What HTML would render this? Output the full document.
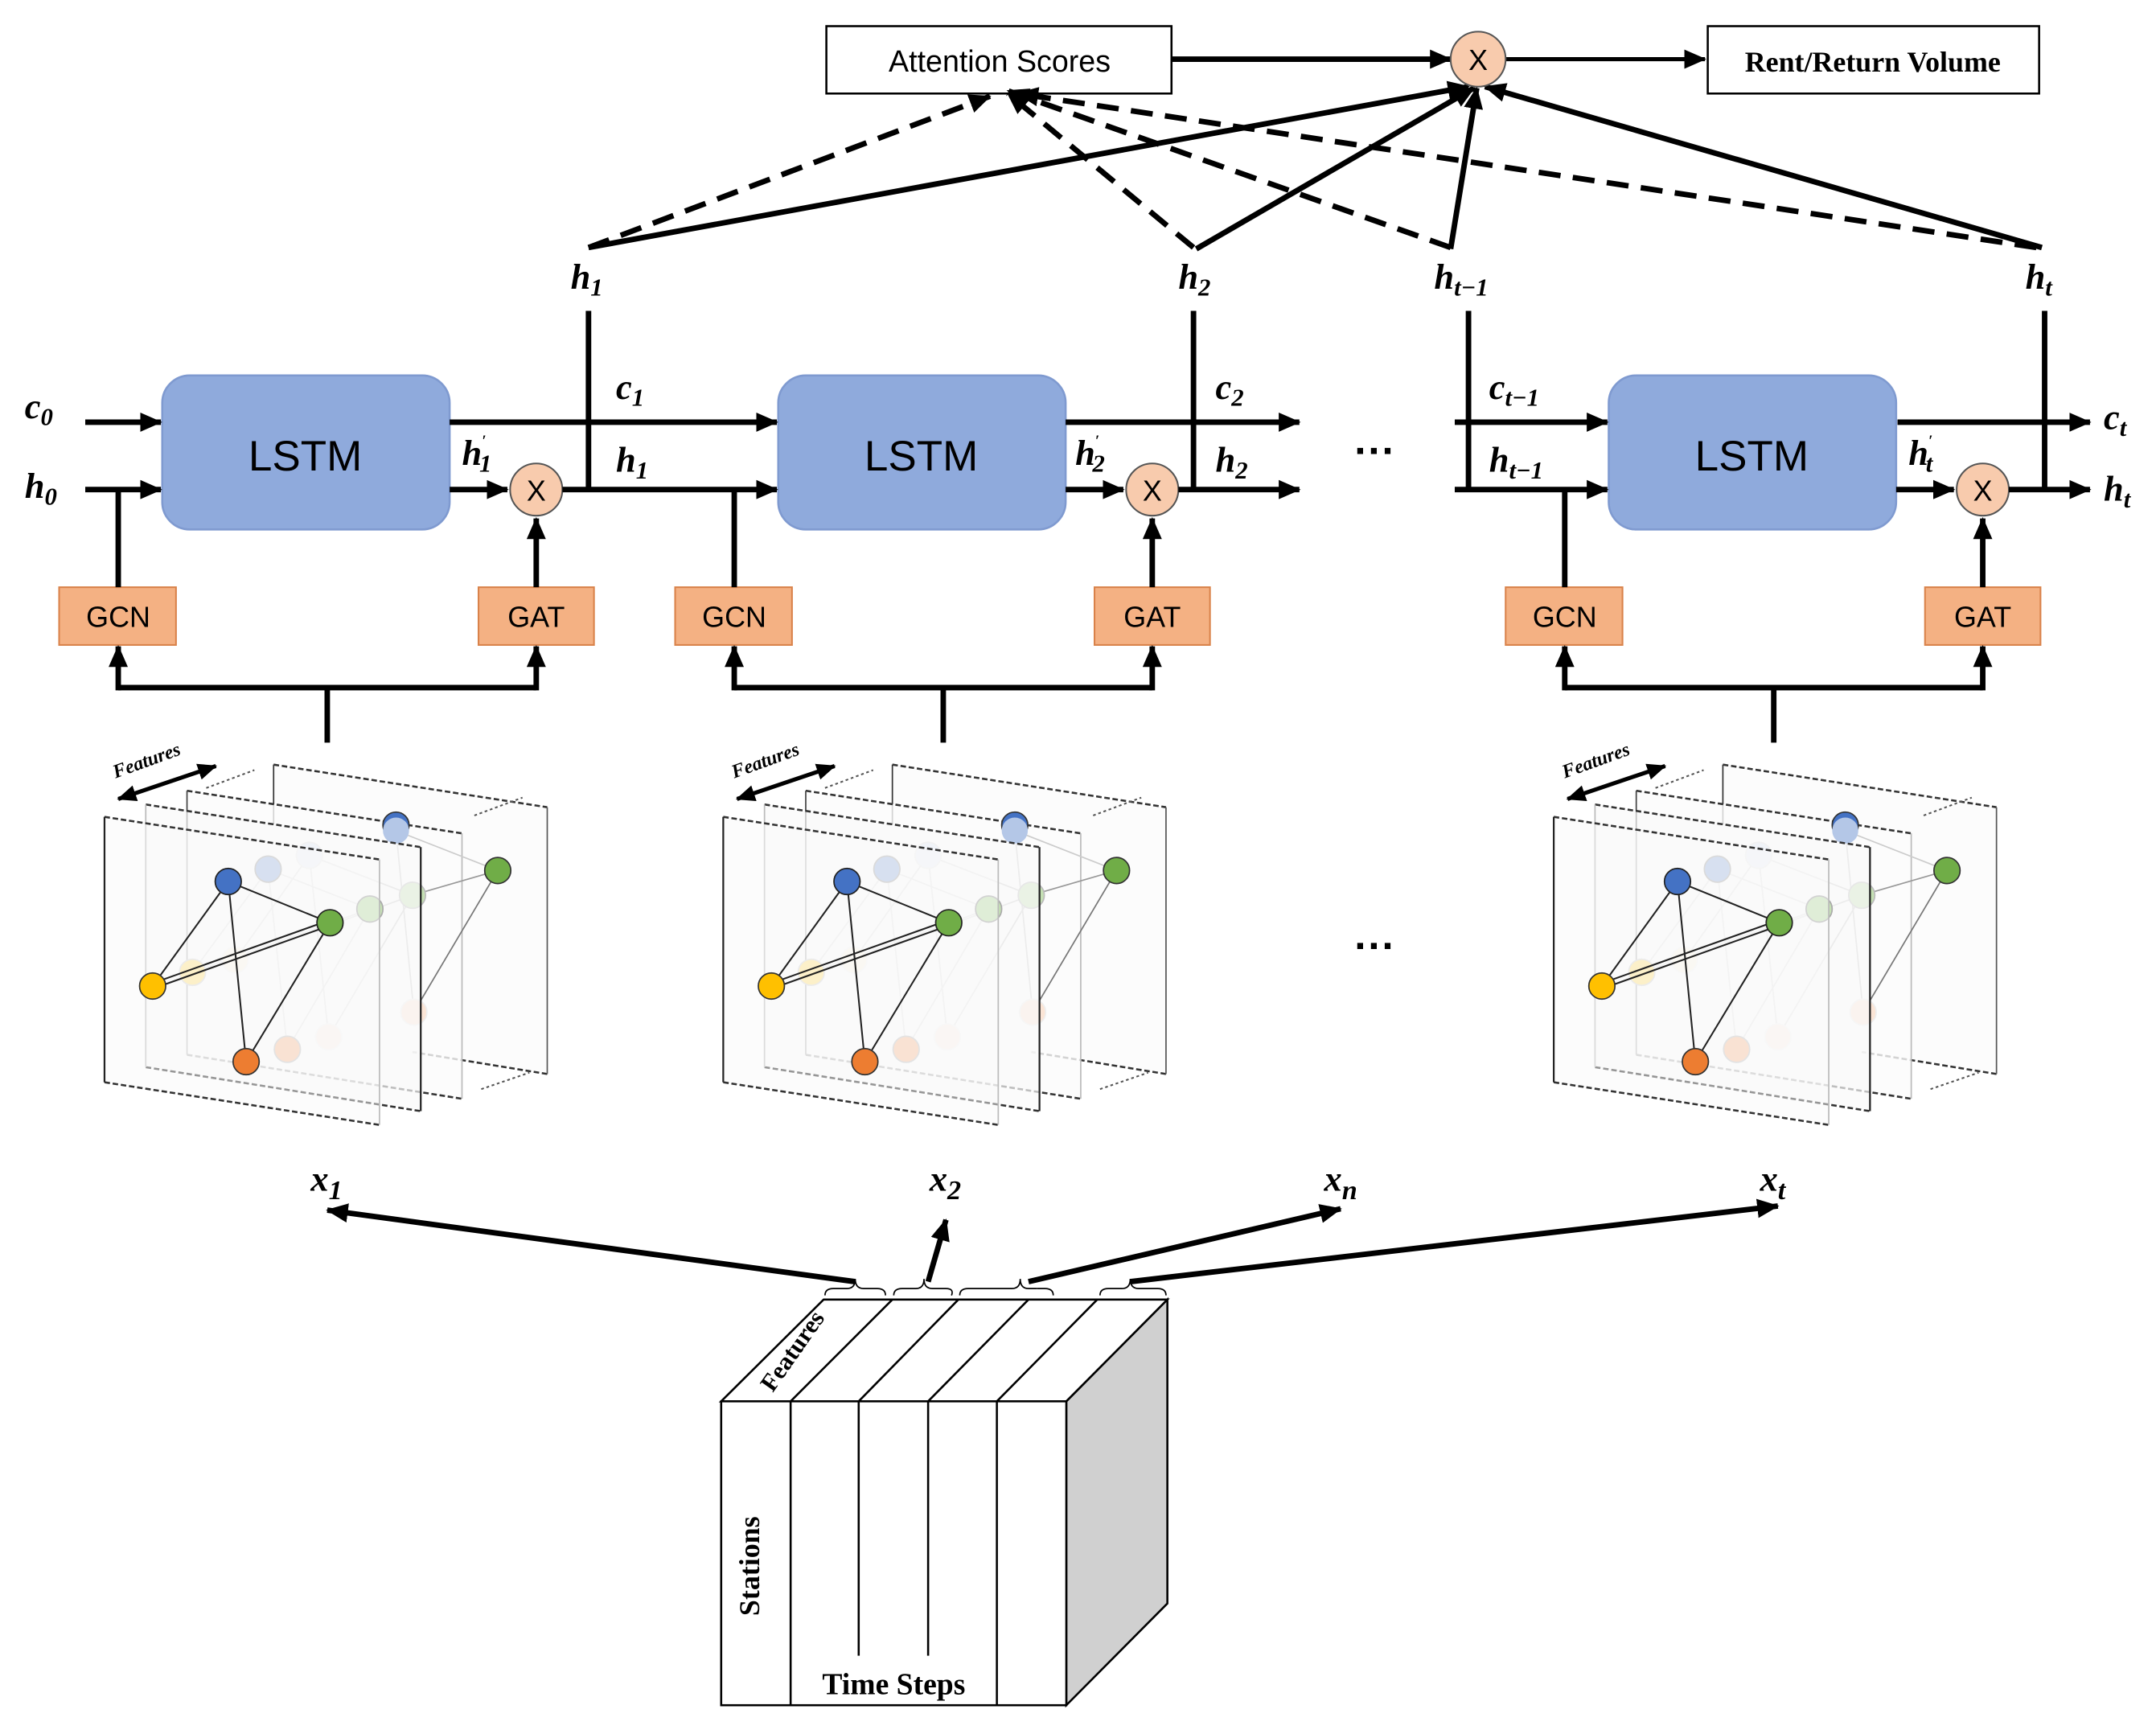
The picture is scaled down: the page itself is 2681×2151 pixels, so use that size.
<!DOCTYPE html>
<html><head><meta charset="utf-8"><style>
html,body{margin:0;padding:0;background:#fff;}
svg{display:block;}
.m{font-family:"Liberation Serif",serif;font-style:italic;font-weight:bold;font-size:26px;fill:#000;}
.s{font-family:"Liberation Sans",sans-serif;fill:#000;}
</style></head><body>
<svg width="2681" height="2151" viewBox="0 0 1568 1258" xmlns="http://www.w3.org/2000/svg">
<defs>
<marker id="a" markerUnits="userSpaceOnUse" markerWidth="16" markerHeight="14" refX="15" refY="7" orient="auto"><path d="M0,0 L16,7 L0,14 z" fill="#000"/></marker>
<marker id="b" markerUnits="userSpaceOnUse" markerWidth="14" markerHeight="12" refX="13" refY="6" orient="auto-start-reverse"><path d="M0,0 L14,6 L0,12 z" fill="#000"/></marker>
<g id="panel">
 <path d="M199,556 L398,587 L398,781 L199,749 Z" fill="#fcfcfc" stroke="none"/>
 <path d="M199,556 L398,587" stroke="#333" stroke-width="1.5" stroke-dasharray="4,2" fill="none"/>
 <path d="M398,781 L300,765" stroke="#333" stroke-width="1.5" stroke-dasharray="4,2" fill="none"/>
 <line x1="199" y1="556" x2="199" y2="600" stroke="#333" stroke-width="1"/>
 <line x1="398" y1="587" x2="398" y2="781" stroke="#555" stroke-width="1"/>
 <path d="M150,573 L185,560 M345,593 L380,580 M350,792 L385,780" stroke="#555" stroke-width="1.2" stroke-dasharray="2,2"/>
 <path d="M136,575 L336,606 L336,799 L136,767 Z" fill="#fbfbfb" fill-opacity="0.8" stroke="none"/>
 <path d="M136,575 L336,606 M136,767 L336,799" stroke="#333" stroke-width="1.5" stroke-dasharray="4,2"/>
 <line x1="136" y1="575" x2="136" y2="767" stroke="#444" stroke-width="1"/>
 <line x1="336" y1="606" x2="336" y2="799" stroke="#bbb" stroke-width="1"/>
 <g stroke="#ccc" stroke-width="1" fill="none">
  <line x1="195" y1="632" x2="140" y2="707"/><line x1="195" y1="632" x2="209" y2="763"/><line x1="195" y1="632" x2="269" y2="661"/>
  <line x1="140" y1="707" x2="269" y2="661"/><line x1="209" y1="763" x2="269" y2="661"/>
  <line x1="225" y1="622" x2="171" y2="698"/><line x1="225" y1="622" x2="239" y2="754"/><line x1="225" y1="622" x2="300" y2="651"/>
  <line x1="171" y1="698" x2="300" y2="651"/><line x1="239" y1="754" x2="300" y2="651"/>
  <line x1="288" y1="604" x2="362" y2="633"/><line x1="288" y1="604" x2="301" y2="736"/>
 </g>
 <line x1="362" y1="633" x2="301" y2="736" stroke="#777" stroke-width="1"/>
 <line x1="300" y1="651" x2="362" y2="633" stroke="#999" stroke-width="1"/>
 <circle cx="288" cy="600" r="9.5" fill="#4472c4" stroke="#333" stroke-width="1"/>
 <circle cx="288" cy="604" r="9.5" fill="#b4c7e7"/>
 <circle cx="225" cy="622" r="9.5" fill="#dae3f3" stroke="#ddd"/>
 <circle cx="171" cy="698" r="9.5" fill="#fff2cc" stroke="#eee"/>
 <circle cx="239" cy="754" r="9.5" fill="#fbe5d6" stroke="#eee"/>
 <circle cx="301" cy="736" r="9.5" fill="#fbe5d6" stroke="#eee"/>
 <circle cx="300" cy="651" r="9.5" fill="#c5e0b4" stroke="#bbb"/>
 <circle cx="362" cy="633" r="9.5" fill="#70ad47" stroke="#333" stroke-width="1"/>
 <path d="M106,585 L306,616 L306,808 L106,776 Z" fill="#fafafa" fill-opacity="0.7" stroke="none"/>
 <path d="M106,585 L306,616 M106,776 L306,808" stroke="#333" stroke-width="1.5" stroke-dasharray="4,2"/>
 <line x1="106" y1="585" x2="106" y2="776" stroke="#bbb" stroke-width="1"/>
 <line x1="306" y1="616" x2="306" y2="808" stroke="#222" stroke-width="1.3"/>
 <circle cx="195" cy="632" r="9.5" fill="#b4c7e7" stroke="#bbb"/>
 <circle cx="140" cy="707" r="9.5" fill="#ffe699" stroke="#ddd"/>
 <circle cx="209" cy="763" r="9.5" fill="#f8cbad" stroke="#ccc"/>
 <circle cx="269" cy="661" r="9.5" fill="#c5e0b4" stroke="#aaa"/>
 <path d="M76,594 L276,625 L276,818 L76,787 Z" fill="#fafafa" fill-opacity="0.5" stroke="none"/>
 <path d="M76,594 L276,625 M76,787 L276,818" stroke="#333" stroke-width="1.5" stroke-dasharray="4,2"/>
 <line x1="76" y1="594" x2="76" y2="787" stroke="#222" stroke-width="1.3"/>
 <line x1="276" y1="625" x2="276" y2="818" stroke="#bbb" stroke-width="1"/>
 <g stroke="#222" stroke-width="1.2">
  <line x1="166" y1="641" x2="111" y2="717"/><line x1="166" y1="641" x2="179" y2="772"/>
  <line x1="166" y1="641" x2="240" y2="671"/><line x1="179" y1="772" x2="240" y2="671"/>
  <line x1="111" y1="715" x2="240" y2="669"/><line x1="111" y1="719" x2="240" y2="673"/>
 </g>
 <circle cx="166" cy="641" r="9.5" fill="#4472c4" stroke="#222"/>
 <circle cx="240" cy="671" r="9.5" fill="#70ad47" stroke="#222"/>
 <circle cx="111" cy="717" r="9.5" fill="#ffc000" stroke="#333"/>
 <circle cx="179" cy="772" r="9.5" fill="#ed7d31" stroke="#333"/>
 <line x1="86" y1="581" x2="157" y2="557" stroke="#000" stroke-width="3" marker-start="url(#b)" marker-end="url(#b)"/>
</g>
<g id="cell">
 <rect x="118" y="273" width="209" height="112" rx="20" fill="#8faadc" stroke="#7f9ad0" stroke-width="1.5"/>
 <rect x="43" y="427" width="85" height="42" fill="#f4b183" stroke="#d9824a" stroke-width="1.2"/>
 <rect x="348" y="427" width="84" height="42" fill="#f4b183" stroke="#d9824a" stroke-width="1.2"/>
 <line x1="86" y1="427" x2="86" y2="356" stroke="#000" stroke-width="4"/>
 <line x1="390" y1="427" x2="390" y2="377" stroke="#000" stroke-width="4" marker-end="url(#a)"/>
 <line x1="327" y1="356" x2="369" y2="356" stroke="#000" stroke-width="4" marker-end="url(#a)"/>
 <circle cx="390" cy="356" r="19" fill="#f8cbad" stroke="#555" stroke-width="1.2"/>
 <path d="M238,540 L238,500 M86,500 L390,500" stroke="#000" stroke-width="4" fill="none"/>
 <line x1="86" y1="502" x2="86" y2="470" stroke="#000" stroke-width="4" marker-end="url(#a)"/>
 <line x1="390" y1="502" x2="390" y2="470" stroke="#000" stroke-width="4" marker-end="url(#a)"/>
</g>
</defs>

<rect width="1568" height="1258" fill="#fff"/>

<rect x="601" y="19" width="251" height="49" fill="#fff" stroke="#000" stroke-width="1.5"/>
<text x="727" y="52" class="s" font-size="22" text-anchor="middle">Attention Scores</text>
<rect x="1242" y="19" width="241" height="49" fill="#fff" stroke="#000" stroke-width="1.5"/>
<text x="1362" y="52" font-family="Liberation Serif,serif" font-weight="bold" font-size="21" text-anchor="middle">Rent/Return Volume</text>
<line x1="852" y1="43" x2="1055" y2="43" stroke="#000" stroke-width="4" marker-end="url(#a)"/>
<line x1="1095" y1="43" x2="1240" y2="43" stroke="#000" stroke-width="3" marker-end="url(#a)"/>

<g stroke="#000" stroke-width="4" stroke-dasharray="16,9" fill="none">
 <line x1="428" y1="180" x2="720" y2="70" marker-end="url(#a)"/>
 <line x1="868" y1="180" x2="733" y2="68" marker-end="url(#a)"/>
 <line x1="1055" y1="180" x2="733" y2="66" marker-end="url(#a)"/>
 <line x1="1481" y1="180" x2="740" y2="68" marker-end="url(#a)"/>
</g>
<g stroke="#000" stroke-width="4" fill="none">
 <line x1="428" y1="180" x2="1068" y2="63" marker-end="url(#a)"/>
 <line x1="870" y1="181" x2="1072" y2="64" marker-end="url(#a)"/>
 <line x1="1055" y1="181" x2="1074" y2="64" marker-end="url(#a)"/>
 <line x1="1485" y1="180" x2="1080" y2="63" marker-end="url(#a)"/>
</g>
<circle cx="1075" cy="43" r="20" fill="#f8cbad" stroke="#555" stroke-width="1.2"/>
<text x="1075" y="51" class="s" font-size="21" text-anchor="middle">X</text>

<text class="m" x="415" y="210">h<tspan font-size="18" dy="5">1</tspan></text>
<text class="m" x="857" y="210">h<tspan font-size="18" dy="5">2</tspan></text>
<text class="m" x="1043" y="210">h<tspan font-size="18" dy="5">t−1</tspan></text>
<text class="m" x="1473" y="210">h<tspan font-size="18" dy="5">t</tspan></text>

<use href="#cell"/>
<use href="#cell" transform="translate(448,0)"/>
<use href="#cell" transform="translate(1052,0)"/>

<g stroke="#000" stroke-width="4" fill="none">
 <line x1="62" y1="307" x2="117" y2="307" marker-end="url(#a)"/>
 <line x1="62" y1="356" x2="117" y2="356" marker-end="url(#a)"/>
 <line x1="327" y1="307" x2="565" y2="307" marker-end="url(#a)"/>
 <line x1="409" y1="356" x2="565" y2="356" marker-end="url(#a)"/>
 <line x1="428" y1="226" x2="428" y2="356"/>
 <line x1="775" y1="307" x2="945" y2="307" marker-end="url(#a)"/>
 <line x1="857" y1="356" x2="945" y2="356" marker-end="url(#a)"/>
 <line x1="868" y1="226" x2="868" y2="356"/>
 <line x1="1058" y1="307" x2="1169" y2="307" marker-end="url(#a)"/>
 <line x1="1058" y1="356" x2="1169" y2="356" marker-end="url(#a)"/>
 <line x1="1068" y1="226" x2="1068" y2="356"/>
 <line x1="1380" y1="307" x2="1520" y2="307" marker-end="url(#a)"/>
 <line x1="1461" y1="356" x2="1520" y2="356" marker-end="url(#a)"/>
 <line x1="1487" y1="226" x2="1487" y2="356"/>
</g>

<g class="s" font-size="31" text-anchor="middle">
 <text x="222" y="342">LSTM</text><text x="670" y="342">LSTM</text><text x="1274" y="342">LSTM</text>
</g>
<g class="s" font-size="21" text-anchor="middle">
 <text x="86" y="456">GCN</text><text x="390" y="456">GAT</text>
 <text x="534" y="456">GCN</text><text x="838" y="456">GAT</text>
 <text x="1138" y="456">GCN</text><text x="1442" y="456">GAT</text>
 <text x="390" y="364">X</text><text x="838" y="364">X</text><text x="1442" y="364">X</text>
</g>

<text class="m" x="18" y="304">c<tspan font-size="18" dy="5">0</tspan></text>
<text class="m" x="18" y="362">h<tspan font-size="18" dy="5">0</tspan></text>
<text class="m" x="448" y="290">c<tspan font-size="18" dy="5">1</tspan></text>
<text class="m" x="448" y="343">h<tspan font-size="18" dy="5">1</tspan></text>
<text class="m" x="336" y="338">h<tspan font-size="11" dy="-14">′</tspan><tspan font-size="18" dx="-5" dy="19">1</tspan></text>
<text class="m" x="884" y="290">c<tspan font-size="18" dy="5">2</tspan></text>
<text class="m" x="884" y="343">h<tspan font-size="18" dy="5">2</tspan></text>
<text class="m" x="782" y="338">h<tspan font-size="11" dy="-14">′</tspan><tspan font-size="18" dx="-5" dy="19">2</tspan></text>
<text class="m" x="1083" y="290">c<tspan font-size="18" dy="5">t−1</tspan></text>
<text class="m" x="1083" y="343">h<tspan font-size="18" dy="5">t−1</tspan></text>
<text class="m" x="1388" y="338">h<tspan font-size="11" dy="-14">′</tspan><tspan font-size="18" dx="-5" dy="19">t</tspan></text>
<text class="m" x="1530" y="312">c<tspan font-size="18" dy="5">t</tspan></text>
<text class="m" x="1530" y="364">h<tspan font-size="18" dy="5">t</tspan></text>

<text x="1000" y="338" font-family="Liberation Sans,sans-serif" font-size="30" font-weight="bold" text-anchor="middle">···</text>
<text x="1000" y="698" font-family="Liberation Sans,sans-serif" font-size="30" font-weight="bold" text-anchor="middle">···</text>

<use href="#panel"/>
<use href="#panel" transform="translate(450,0)"/>
<use href="#panel" transform="translate(1054,0)"/>
<g font-family="Liberation Serif,serif" font-style="italic" font-weight="bold" font-size="14">
 <text transform="translate(84,566) rotate(-20)">Features</text>
 <text transform="translate(534,566) rotate(-20)">Features</text>
 <text transform="translate(1138,566) rotate(-20)">Features</text>
</g>

<text class="m" x="226" y="866" font-size="29">x<tspan font-size="20" dy="6">1</tspan></text>
<text class="m" x="676" y="866" font-size="29">x<tspan font-size="20" dy="6">2</tspan></text>
<text class="m" x="963" y="866" font-size="29">x<tspan font-size="20" dy="6">n</tspan></text>
<text class="m" x="1280" y="866" font-size="29">x<tspan font-size="20" dy="6">t</tspan></text>
<g stroke="#000" stroke-width="4" fill="none">
 <line x1="622" y1="932" x2="238" y2="880" marker-end="url(#a)"/>
 <line x1="675" y1="932" x2="688" y2="887" marker-end="url(#a)"/>
 <line x1="748" y1="932" x2="975" y2="879" marker-end="url(#a)"/>
 <line x1="822" y1="932" x2="1293" y2="877" marker-end="url(#a)"/>
</g>

<path d="M775.5,1019 L849,945 L849,1166 L775.5,1240 Z" fill="#d0d0d0" stroke="#000" stroke-width="1.5"/>
<path d="M524.5,1019 L599,945 L849,945 L775.5,1019 Z" fill="#fff" stroke="#000" stroke-width="1.5"/>
<rect x="524.5" y="1019" width="251" height="221" fill="#fff" stroke="#000" stroke-width="1.5"/>
<g stroke="#000" stroke-width="1.5">
 <line x1="575" y1="1019" x2="649" y2="945"/><line x1="624.5" y1="1019" x2="697" y2="945"/>
 <line x1="675" y1="1019" x2="748" y2="945"/><line x1="725" y1="1019" x2="798" y2="945"/>
 <line x1="575" y1="1019" x2="575" y2="1240"/><line x1="624.5" y1="1019" x2="624.5" y2="1204"/>
 <line x1="675" y1="1019" x2="675" y2="1204"/><line x1="725" y1="1019" x2="725" y2="1240"/>
</g>
<g stroke="#000" stroke-width="1" fill="none">
 <path d="M600,942 q0,-5 6,-5 h10 q6,0 6,-7 q0,7 6,7 h10 q6,0 6,5"/>
 <path d="M650,942 q0,-5 6,-5 h10 q6,0 6,-7 q0,7 6,7 h10 q6,0 4,5"/>
 <path d="M698,942 q0,-5 6,-5 h32 q6,0 6,-7 q0,7 6,7 h6"/>
 <path d="M754,937 h6 q6,0 6,5"/>
 <path d="M800,942 q0,-5 6,-5 h10 q6,0 6,-7 q0,7 6,7 h14 q6,0 6,5"/>
</g>
<text transform="translate(562,1013) rotate(-55)" font-family="Liberation Serif,serif" font-weight="bold" font-size="18">Features</text>
<text transform="translate(552,1175) rotate(-90)" font-family="Liberation Serif,serif" font-weight="bold" font-size="21">Stations</text>
<text x="650" y="1232" font-family="Liberation Serif,serif" font-weight="bold" font-size="22" text-anchor="middle">Time Steps</text>
</svg>
</body></html>
